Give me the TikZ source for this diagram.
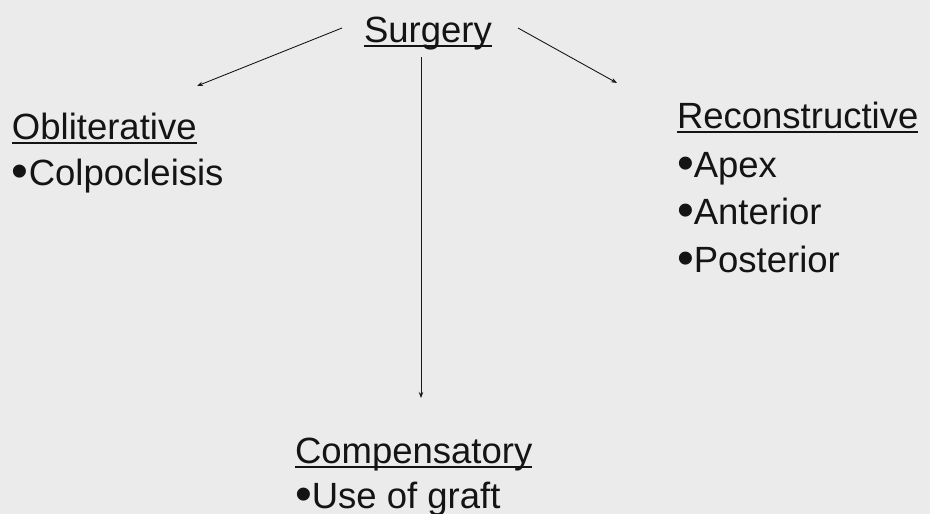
\documentclass[tikz,border=0pt]{standalone}
\usepackage{fontspec}
\setmainfont{Liberation Sans}
\usetikzlibrary{arrows.meta}
\newcommand\myul[1]{\setbox0\hbox{#1}\rlap{\rule[-4.5pt]{\wd0}{1.2pt}}\box0}
\newcommand\mybul{\raisebox{-2.5pt}{\fontsize{48}{48}\selectfont•}}
\tikzset{
  lbl/.style={anchor=base west, inner sep=0pt, outer sep=0pt, font=\fontsize{36.5}{40}\selectfont, text=black!92},
  conn/.style={line width=0.9pt, black!90, -{Stealth[length=6pt,width=4.5pt]}},
}
\begin{document}
\begin{tikzpicture}[x=1pt,y=-1pt]
\fill[black!8] (0,0) rectangle (930,514);
\useasboundingbox (0,0) rectangle (930,514);
% Surgery
\node[lbl] (surgery) at (364,42) {\myul{Surgery}};
% Obliterative
\node[lbl] (obl) at (12,139) {\myul{Obliterative}};
\node[lbl] (obl1) at (12,185) {\mybul Colpocleisis};
% Reconstructive
\node[lbl] (rec) at (677,128) {\myul{Reconstructive}};
\node[lbl] (rec1) at (677,177) {\mybul Apex};
\node[lbl] (rec2) at (677,224) {\mybul Anterior};
\node[lbl] (rec3) at (677,272) {\mybul Posterior};
% Compensatory
\node[lbl] (comp) at (295,463) {\myul{Compensatory}};
\node[lbl] (comp1) at (295,508) {\mybul Use of graft};
% connector ends
\coordinate (sL) at (342,28);
\coordinate (eL) at (197,86);
\coordinate (sR) at (518,28);
\coordinate (eR) at (617,83);
\coordinate (sD) at (421,57);
\coordinate (eD) at (421,398);
\draw[conn] (sL) -- (eL);
\draw[conn] (sR) -- (eR);
\draw[conn] (sD) -- (eD);
\end{tikzpicture}
\end{document}
